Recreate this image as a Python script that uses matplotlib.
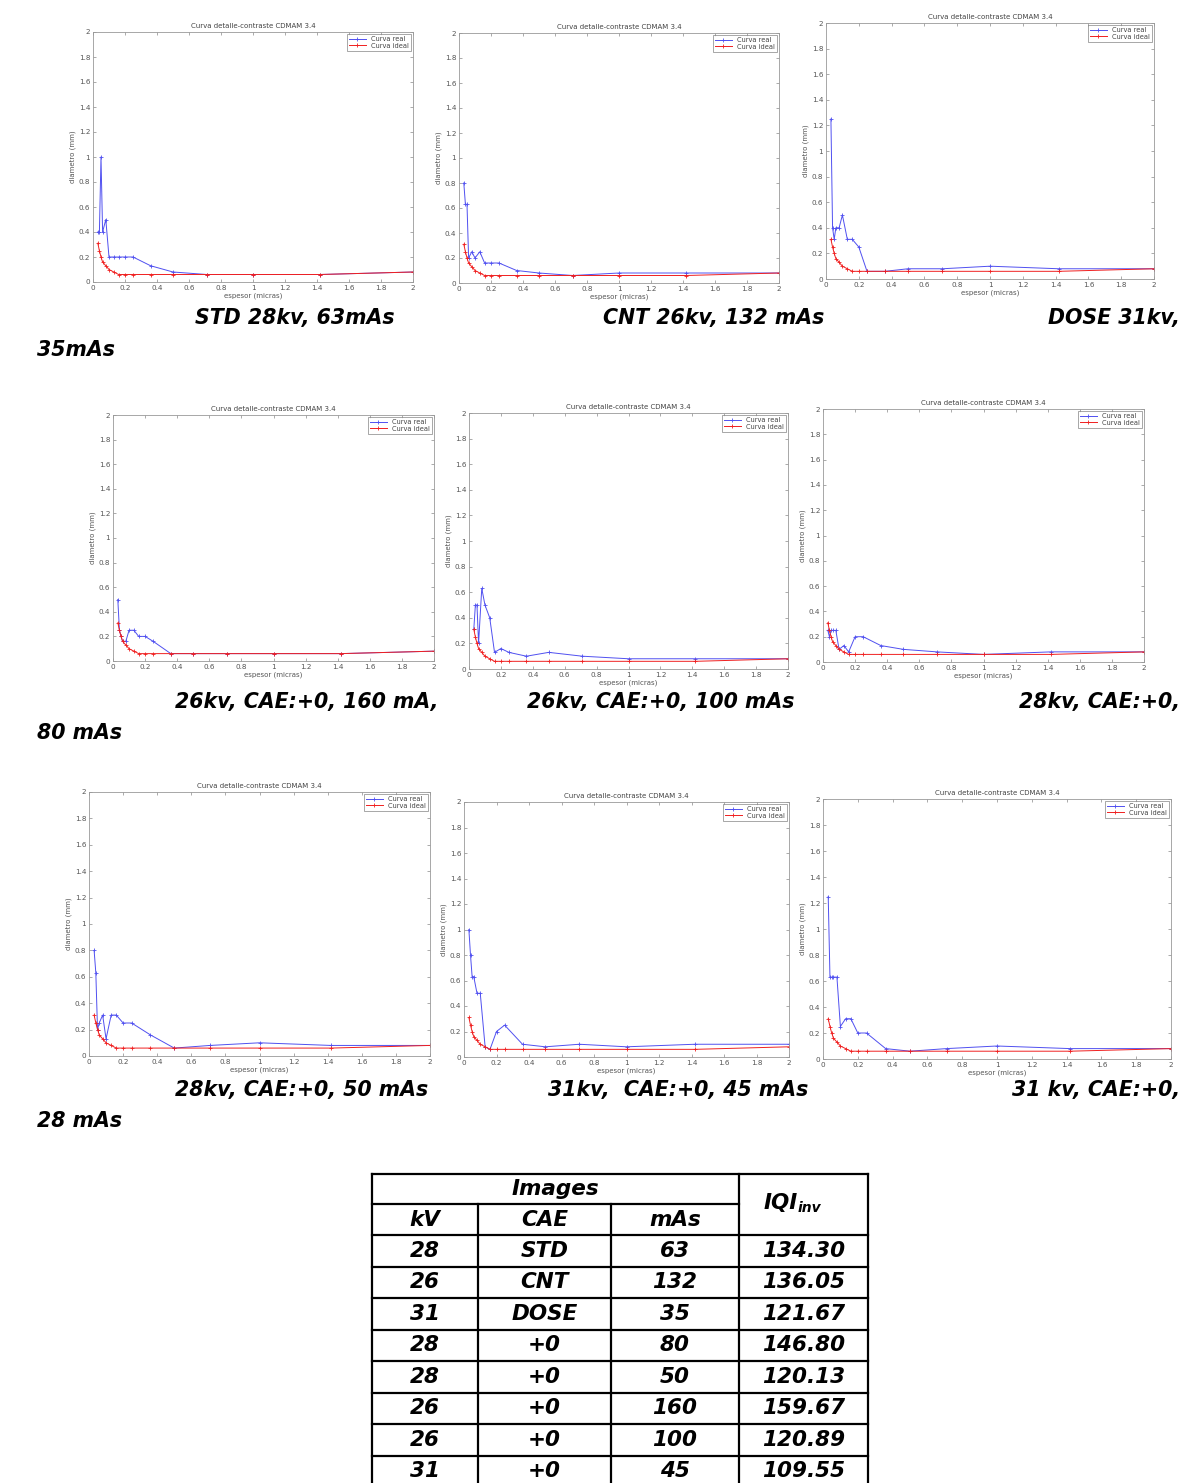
import numpy as np
import matplotlib.pyplot as plt
from matplotlib.ticker import FormatStrFormatter

W, H = 1197, 1483

# CDMAM 3.4 gold thicknesses (micras)
espesor = [0.03, 0.04, 0.05, 0.06, 0.08, 0.10, 0.13, 0.16, 0.20, 0.25, 0.36, 0.50, 0.71, 1.00, 1.42, 2.00]
ideal = [0.31, 0.25, 0.20, 0.16, 0.13, 0.10, 0.08, 0.06, 0.06, 0.06, 0.06, 0.06, 0.06, 0.06, 0.06, 0.08]

real_std = [0.40, 0.40, 1.00, 0.40, 0.50, 0.20, 0.20, 0.20, 0.20, 0.20, 0.13, 0.08, 0.06, 0.06, 0.06, 0.08]
real_cnt = [0.80, 0.63, 0.63, 0.20, 0.25, 0.20, 0.25, 0.16, 0.16, 0.16, 0.10, 0.08, 0.06, 0.08, 0.08, 0.08]
real_dose = [1.25, 0.40, 0.31, 0.40, 0.40, 0.50, 0.31, 0.31, 0.25, 0.06, 0.06, 0.08, 0.08, 0.10, 0.08, 0.08]
real_26_160 = [0.50, 0.25, 0.20, 0.16, 0.16, 0.25, 0.25, 0.20, 0.20, 0.16, 0.06, 0.06, 0.06, 0.06, 0.06, 0.08]
real_26_100 = [0.31, 0.50, 0.50, 0.20, 0.63, 0.50, 0.40, 0.13, 0.16, 0.13, 0.10, 0.13, 0.10, 0.08, 0.08, 0.08]
real_28_80 = [0.25, 0.20, 0.25, 0.25, 0.25, 0.10, 0.13, 0.08, 0.20, 0.20, 0.13, 0.10, 0.08, 0.06, 0.08, 0.08]
real_28_50 = [0.80, 0.63, 0.20, 0.25, 0.31, 0.13, 0.31, 0.31, 0.25, 0.25, 0.16, 0.06, 0.08, 0.10, 0.08, 0.08]
real_31_45 = [1.00, 0.80, 0.63, 0.63, 0.50, 0.50, 0.08, 0.06, 0.20, 0.25, 0.10, 0.08, 0.10, 0.08, 0.10, 0.10]
real_31_28 = [1.25, 0.63, 0.63, 0.63, 0.63, 0.25, 0.31, 0.31, 0.20, 0.20, 0.08, 0.06, 0.08, 0.10, 0.08, 0.08]

series = [real_std, real_cnt, real_dose, real_26_160, real_26_100, real_28_80,
          real_28_50, real_31_45, real_31_28]

# axes boxes in pixels: left, top, right, bottom
boxes = [(93, 32, 413, 282), (459, 33, 779, 283), (826, 23, 1154, 279),
         (113, 415, 434, 661), (469, 413, 788, 669), (823, 409, 1144, 662),
         (89, 792, 430, 1056), (464, 802, 789, 1057), (823, 799, 1171, 1059)]

captions = [("STD 28kv, 63mAs", 195, 318), ("CNT 26kv, 132 mAs", 603, 318), ("DOSE 31kv,", 1180, 318),
            ("35mAs", 37, 350),
            ("26kv, CAE:+0, 160 mA,", 175, 702), ("26kv, CAE:+0, 100 mAs", 527, 702), ("28kv, CAE:+0,", 1180, 702),
            ("80 mAs", 37, 733),
            ("28kv, CAE:+0, 50 mAs", 175, 1090), ("31kv,  CAE:+0, 45 mAs", 548, 1090), ("31 kv, CAE:+0,", 1180, 1090),
            ("28 mAs", 37, 1121)]

# table
kv = ["28", "26", "31", "28", "28", "26", "26", "31"]
cae = ["STD", "CNT", "DOSE", "+0", "+0", "+0", "+0", "+0"]
mas = ["63", "132", "35", "80", "50", "160", "100", "45"]
iqi = ["134.30", "136.05", "121.67", "146.80", "120.13", "159.67", "120.89", "109.55"]

fig = plt.figure(figsize=(W / 100, H / 100), dpi=100)

for (l, t, r, b), real in zip(boxes, series):
    ax = fig.add_axes([l / W, 1 - b / H, (r - l) / W, (b - t) / H])
    ax.plot(espesor, real, color='#5050f0', lw=0.7, marker='+', ms=2.5, mew=0.6, label='Curva real')
    ax.plot(espesor, ideal, color='#f02020', lw=0.7, marker='+', ms=2.5, mew=0.6, label='Curva ideal')
    ax.set_xlim(0, 2)
    ax.set_ylim(0, 2)
    ax.set_xticks(np.arange(0, 2.01, 0.2))
    ax.set_yticks(np.arange(0, 2.01, 0.2))
    ax.xaxis.set_major_formatter(FormatStrFormatter('%g'))
    ax.yaxis.set_major_formatter(FormatStrFormatter('%g'))
    ax.tick_params(direction='in', length=2.5, width=0.5, colors='#888888', labelcolor='#555555',
                   labelsize=5.2, pad=2, top=True, right=True)
    for s in ax.spines.values():
        s.set_color('#999999')
        s.set_linewidth(0.6)
    ax.set_title('Curva detalle-contraste CDMAM 3.4', fontsize=5, color='#444444', pad=3)
    ax.set_xlabel('espesor (micras)', fontsize=5, color='#555555', labelpad=1)
    ax.set_ylabel('diametro (mm)', fontsize=5, color='#555555', labelpad=2)
    leg = ax.legend(loc='upper right', fontsize=4.8, frameon=True, fancybox=False,
                    borderpad=0.3, handlelength=2.5, labelspacing=0.1, borderaxespad=0.3)
    leg.get_frame().set_edgecolor('#666666')
    leg.get_frame().set_linewidth(0.5)
    for txt in leg.get_texts():
        txt.set_color('#444444')

# overlay in pixel coordinates for captions and table
ov = fig.add_axes([0, 0, 1, 1], zorder=-1)
ov.set_xlim(0, W)
ov.set_ylim(H, 0)
ov.axis('off')

cap_font = dict(family='DejaVu Sans', weight='bold', style='italic', fontsize=14.8, color='black')
for text, x, y in captions:
    ha = 'right' if x > 1000 else 'left'
    ov.text(x, y, text, ha=ha, va='center', **cap_font)

# table grid
cols = [372, 478, 611, 739, 868]
top, mid, head = 1174, 1204, 1235
rh = 31.5
bottom = head + rh * len(kv)
lw = 1.6
ov.plot([cols[0], cols[-1]], [top, top], color='black', lw=lw, clip_on=False)
ov.plot([cols[0], cols[3]], [mid, mid], color='black', lw=lw, clip_on=False)
for i in range(len(kv) + 1):
    y = head + rh * i
    ov.plot([cols[0], cols[-1]], [y, y], color='black', lw=lw, clip_on=False)
ov.plot([cols[0], cols[0]], [top, bottom], color='black', lw=lw, clip_on=False)
ov.plot([cols[-1], cols[-1]], [top, bottom], color='black', lw=lw, clip_on=False)
ov.plot([cols[3], cols[3]], [top, bottom], color='black', lw=lw, clip_on=False)
for c in cols[1:3]:
    ov.plot([c, c], [mid, bottom], color='black', lw=lw, clip_on=False)

tab_font = dict(family='DejaVu Sans', weight='bold', style='italic', fontsize=15.5, color='black')
ov.text((cols[0] + cols[3]) / 2, (top + mid) / 2, 'Images', ha='center', va='center', **tab_font)
for j, h in enumerate(['kV', 'CAE', 'mAs']):
    ov.text((cols[j] + cols[j + 1]) / 2, (mid + head) / 2 + 1, h, ha='center', va='center', **tab_font)
ov.text((cols[3] + cols[4]) / 2 - 6, (top + head) / 2 - 2, 'IQI', ha='right', va='center', **tab_font)
ov.text((cols[3] + cols[4]) / 2 - 6, (top + head) / 2 + 3, 'inv', ha='left', va='center',
        family='DejaVu Sans', weight='bold', style='italic', fontsize=10)
for i in range(len(kv)):
    yc = head + rh * (i + 0.5)
    for j, v in enumerate([kv[i], cae[i], mas[i], iqi[i]]):
        ov.text((cols[j] + cols[j + 1]) / 2, yc, v, ha='center', va='center', **tab_font)

fig.savefig('out.png', dpi=100)
